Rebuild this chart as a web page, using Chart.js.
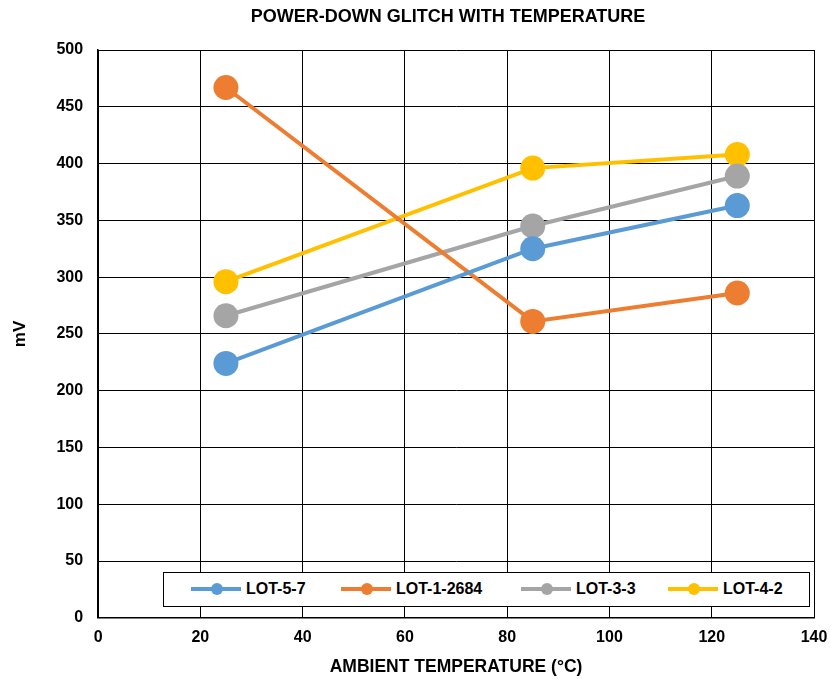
<!DOCTYPE html>
<html>
<head>
<meta charset="utf-8">
<script src="https://cdn.jsdelivr.net/npm/chart.js@4.4.1/dist/chart.umd.min.js"></script>
<style>
  html, body { margin: 0; padding: 0; background: #fff; }
  #wrap { position: relative; width: 830px; height: 679px; }
  #legend {
    position: absolute; left: 163px; top: 572px; width: 647px; height: 35px;
    border: 1.5px solid #000; background: #fff; box-sizing: border-box;
    font-family: "Liberation Sans", Arial, sans-serif; font-weight: bold; font-size: 16px;
  }
  .item { position: absolute; top: 7px; display: flex; align-items: center; }
  .sw { position: relative; width: 50px; height: 4px; margin-right: 5px; }
  .sw span { position: absolute; left: 20px; top: -4px; width: 12px; height: 12px; border-radius: 50%; }
</style>
</head>
<body>
<div id="wrap">
  <canvas id="chart" width="830" height="679"></canvas>
  <div id="legend"></div>
</div>
<script>
// Chart data
const temps = [25, 85, 125];
const lot57 = [224, 325, 363];
const lot12684 = [467, 261, 286];
const lot33 = [266, 345, 389];
const lot42 = [296, 396, 408];
const seriesNames = ['LOT-5-7', 'LOT-1-2684', 'LOT-3-3', 'LOT-4-2'];
const seriesColors = ['#5B9BD5', '#ED7D31', '#A5A5A5', '#FFC000'];
const xTicks = [0, 20, 40, 60, 80, 100, 120, 140];
const yTicks = [0, 50, 100, 150, 200, 250, 300, 350, 400, 450, 500];
const chartTitle = 'POWER-DOWN GLITCH WITH TEMPERATURE';

const allSeries = [lot57, lot12684, lot33, lot42];
const font = 'Liberation Sans';

const datasets = allSeries.map((vals, i) => ({
    label: seriesNames[i],
    data: temps.map((t, j) => ({ x: t, y: vals[j] })),
    borderColor: seriesColors[i],
    backgroundColor: seriesColors[i],
    borderWidth: 4,
    pointRadius: 12.5,
    pointHoverRadius: 12.5,
    pointBorderWidth: 0,
    showLine: true,
    tension: 0
}));

// title drawn by hand so it sits over the plot, not the canvas centre
const plotTitle = {
    id: 'plotTitle',
    afterDraw(chart) {
        const c = chart.ctx;
        c.save();
        c.font = `bold 18px "${font}"`;
        c.fillStyle = '#000';
        c.textAlign = 'center';
        c.textBaseline = 'middle';
        c.fillText(chartTitle, 448, 17);
        c.restore();
    }
};

const ctx = document.getElementById('chart').getContext('2d');
new Chart(ctx, {
    type: 'scatter',
    data: { datasets },
    options: {
        responsive: false,
        animation: false,
        layout: { padding: { left: 2, right: 0, top: 50, bottom: 1 } },
        plugins: {
            legend: { display: false },
            tooltip: { enabled: false },
            title: { display: false }
        },
        scales: {
            x: {
                type: 'linear',
                min: 0, max: 140,
                afterBuildTicks: axis => { axis.ticks = xTicks.map(v => ({ value: v })); },
                afterFit: axis => { axis.paddingRight = 16; },
                ticks: { color: '#000', font: { family: font, weight: 'bold', size: 16 }, padding: 10 },
                grid: { color: '#000', lineWidth: 1, drawTicks: false },
                border: { color: '#000', width: 1.5 },
                title: {
                    display: true,
                    text: 'AMBIENT TEMPERATURE (°C)',
                    color: '#000',
                    font: { family: font, weight: 'bold', size: 17.5 },
                    padding: { top: 0, bottom: 0 }
                }
            },
            y: {
                min: 0, max: 500,
                afterBuildTicks: axis => { axis.ticks = yTicks.map(v => ({ value: v })); },
                ticks: { color: '#000', font: { family: font, weight: 'bold', size: 16 }, padding: 15 },
                grid: { color: '#000', lineWidth: 1, drawTicks: false },
                border: { color: '#000', width: 1.5 },
                title: {
                    display: true,
                    text: 'mV',
                    color: '#000',
                    font: { family: font, weight: 'bold', size: 17 },
                    padding: { top: 8, bottom: 11 }
                }
            }
        }
    },
    plugins: [plotTitle]
});

// Custom legend box inside the plot area
const legendLefts = [27, 177, 357, 504];
document.getElementById('legend').innerHTML = seriesNames.map((name, i) => `
    <div class="item" style="left:${legendLefts[i]}px">
        <div class="sw" style="background:${seriesColors[i]}"><span style="background:${seriesColors[i]}"></span></div>
        <div>${name}</div>
    </div>`).join('');
</script>
</body>
</html>
